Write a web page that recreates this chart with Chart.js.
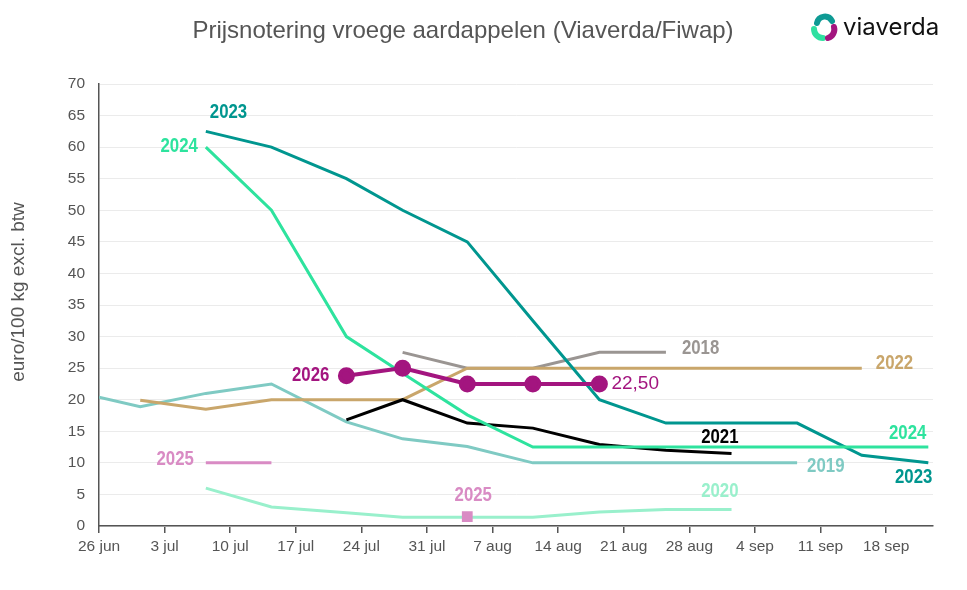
<!DOCTYPE html>
<html><head><meta charset="utf-8">
<script src="https://cdn.jsdelivr.net/npm/chart.js@4.4.1/dist/chart.umd.min.js"></script>
<style>
html,body{margin:0;padding:0;background:#fff;}
#wrap{position:relative;width:967px;height:590px;overflow:hidden;}
#logo{position:absolute;left:810px;top:12px;height:30px;display:flex;align-items:center;}
#logo span{font-family:'Inter','Lato',sans-serif;font-size:24px;color:#111;margin-left:3px;line-height:1;}
</style></head><body>
<div id="wrap">
<canvas id="c" width="967" height="590"></canvas>
<div id="logo">
<svg width="30" height="30" viewBox="0 0 30 30">
<path d="M7 11 A8 8 0 0 1 22 9" stroke="#0e9a94" stroke-width="6" fill="none" stroke-linecap="round"/>
<path d="M4 17 A9 9 0 0 0 13 26" stroke="#2fe0a0" stroke-width="6" fill="none" stroke-linecap="round"/>
<path d="M24 15 A9 9 0 0 1 18 26" stroke="#a3157f" stroke-width="6" fill="none" stroke-linecap="round"/>
</svg><span>viaverda</span></div>
</div>
<script>
// x positions (days after 26 jun) of the weekly quotations
const weekDays = [0, 4.4, 11.4, 18.4, 26.4, 32.4, 39.3, 46.3, 53.4, 60.5, 67.5, 74.5, 81.4, 88.5];
// x-axis ticks
const tickDays = [0, 7, 14, 21, 28, 35, 42, 49, 56, 63, 70, 77, 84];
const tickLabels = ['26 jun','3 jul','10 jul','17 jul','24 jul','31 jul','7 aug','14 aug','21 aug','28 aug','4 sep','11 sep','18 sep'];
// series values (euro/100 kg), aligned with weekDays
const v2026 = [null,null,null,null,23.8,25,22.5,22.5,22.5,null,null,null,null,null];
const v2025 = [null,null,10,10,null,null,1.5,null,null,null,null,null,null,null];
const v2024 = [null,null,60,50,30,24.2,17.6,12.5,12.5,12.5,12.5,12.5,12.5,12.5];
const v2021 = [null,null,null,null,16.8,20,16.3,15.5,12.9,12,11.5,null,null,null];
const v2023 = [null,null,62.5,60,55,50,45,32.5,20,16.3,16.3,16.3,11.2,10];
const v2022 = [null,19.9,18.5,20,20,20,25,25,25,25,25,25,25,null];
const v2018 = [null,null,null,null,null,27.5,25,25,27.5,27.5,null,null,null,null];
const v2019 = [20.4,18.9,21,22.5,16.5,13.8,12.6,10,10,10,10,10,null,null];
const v2020 = [null,null,6,3,2.1,1.4,1.4,1.4,2.2,2.6,2.6,null,null,null];
const seriesNames = ['2026','2025','2024','2021','2023','2022','2018','2019','2020'];
const seriesValues = [v2026,v2025,v2024,v2021,v2023,v2022,v2018,v2019,v2020];
const seriesColors = ['#a3157f','#d98bc4','#2ee39e','#000000','#00968f','#c9a66b','#9a9592','#7fcac3','#99f0cc'];

const toPoints = vals => weekDays.map((d,i)=>({x:d,y:vals[i]}));

const datasets = seriesNames.map((name,k)=>{
  const vals = seriesValues[k];
  const ds = {
    label: name,
    data: toPoints(vals),
    borderColor: seriesColors[k],
    backgroundColor: seriesColors[k],
    borderWidth: 3,
    spanGaps: false,
    pointRadius: 0,
    pointHoverRadius: 0,
    tension: 0
  };
  if (name === '2026') { ds.borderWidth = 4; ds.pointRadius = 6.5; }
  if (name === '2025') {
    ds.pointStyle = 'rect';
    ds.pointRadius = ctx => {
      const i = ctx.dataIndex;
      const isolated = vals[i] != null && (i===0 || vals[i-1]==null) && (i===vals.length-1 || vals[i+1]==null);
      return isolated ? 5.5 : 0;
    };
  }
  return ds;
});

const labelSpecs = [
  {series:'2023', at:'first', text:'2023', align:'left',  dx:4,   dy:-19},
  {series:'2024', at:'first', text:'2024', align:'right', dx:-8,  dy:-1},
  {series:'2026', at:'first', text:'2026', align:'right', dx:-17, dy:-1},
  {series:'2026', at:'last',  text:'22,50', align:'left', dx:12,  dy:0, plain:true},
  {series:'2018', at:'last',  text:'2018', align:'left',  dx:16,  dy:-4},
  {series:'2022', at:'last',  text:'2022', align:'left',  dx:14,  dy:-5},
  {series:'2021', at:'last',  text:'2021', align:'right', dx:7,   dy:-16},
  {series:'2024', at:'last',  text:'2024', align:'right', dx:-2,  dy:-14},
  {series:'2019', at:'last',  text:'2019', align:'left',  dx:10,  dy:3},
  {series:'2023', at:'last',  text:'2023', align:'right', dx:4,   dy:14},
  {series:'2020', at:'last',  text:'2020', align:'right', dx:7,   dy:-18},
  {series:'2025', at:'first', text:'2025', align:'right', dx:-12, dy:-4},
  {series:'2025', at:'last',  text:'2025', align:'center',dx:6,   dy:-21}
];

const labelPlugin = {
  id:'seriesLabels',
  afterDatasetsDraw(chart){
    const ctx = chart.ctx;
    labelSpecs.forEach(spec=>{
      const k = seriesNames.indexOf(spec.series);
      const vals = seriesValues[k];
      const meta = chart.getDatasetMeta(k);
      let idx = -1;
      if (spec.at==='first') idx = vals.findIndex(v=>v!=null);
      else { for (let i=vals.length-1;i>=0;i--) if (vals[i]!=null){idx=i;break;} }
      const el = meta.data[idx];
      const x = el.x + spec.dx, y = el.y + spec.dy;
      ctx.save();
      ctx.fillStyle = seriesColors[k];
      ctx.textBaseline = 'middle';
      if (spec.plain) {
        ctx.font = '19px "Liberation Sans", Arial, sans-serif';
        ctx.textAlign = spec.align;
        ctx.fillText(spec.text, x, y);
      } else {
        const sx = 0.8;
        ctx.font = 'bold 21px "Liberation Sans", Arial, sans-serif';
        ctx.textAlign = spec.align;
        ctx.translate(x, y);
        ctx.scale(sx, 1);
        ctx.fillText(spec.text, 0, 0);
      }
      ctx.restore();
    });
  }
};

const titlePlugin = {
  id:'titleText',
  afterDraw(chart){
    const ctx = chart.ctx;
    ctx.save();
    ctx.fillStyle = '#555555';
    ctx.font = '24px "Liberation Sans", Arial, sans-serif';
    ctx.textAlign = 'center';
    ctx.textBaseline = 'middle';
    ctx.fillText('Prijsnotering vroege aardappelen (Viaverda/Fiwap)', 463, 31);
    ctx.font = '19px "Liberation Sans", Arial, sans-serif';
    ctx.translate(19, 292);
    ctx.rotate(-Math.PI/2);
    ctx.fillText('euro/100 kg excl. btw', 0, 0);
    ctx.restore();
  }
};

new Chart(document.getElementById('c'), {
  type:'line',
  data:{datasets},
  plugins:[labelPlugin, titlePlugin],
  options:{
    responsive:false,
    animation:false,
    events:[],
    layout:{padding:{left:0,right:34,top:84,bottom:0}},
    plugins:{legend:{display:false},tooltip:{enabled:false},title:{display:false}},
    scales:{
      x:{
        type:'linear', min:0, max:89,
        afterBuildTicks: s => { s.ticks = tickDays.map(v=>({value:v})); },
        afterFit: s => { s.height = 64; },
        ticks:{
          callback:(v)=>{ const i = tickDays.indexOf(v); return i>=0 ? tickLabels[i] : ''; },
          color:'#555555', font:{family:'"Liberation Sans", Arial, sans-serif', size:15.5},
          maxRotation:0, autoSkip:false, padding:4
        },
        grid:{drawOnChartArea:false, drawTicks:true, tickLength:7, color:'#555555', lineWidth:1.5},
        border:{display:true, color:'#555555', width:1.5}
      },
      y:{
        min:0, max:70,
        afterFit: s => { s.width = 99; },
        ticks:{stepSize:5, color:'#555555', font:{family:'"Liberation Sans", Arial, sans-serif', size:15.5}, padding:14},
        grid:{drawTicks:false, color:'#ebebeb', lineWidth:1},
        border:{display:true, color:'#555555', width:1.5},
        title:{display:false}
      }
    }
  }
});
</script>
</body></html>
